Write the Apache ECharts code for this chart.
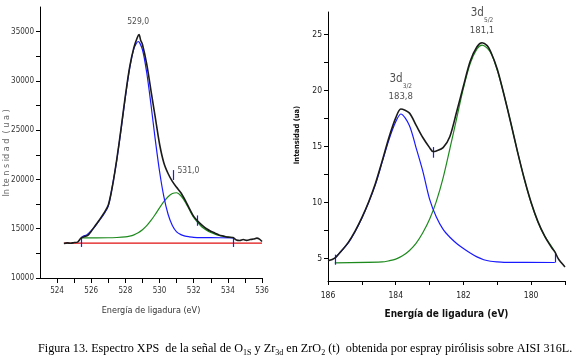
<!DOCTYPE html>
<html>
<head>
<meta charset="utf-8">
<script src="https://cdn.jsdelivr.net/npm/echarts@6/dist/echarts.min.js"></script>
<style>
  html, body { margin: 0; padding: 0; background: #fff; }
  #chart { width: 575px; height: 360px; }
</style>
</head>
<body>
<div id="chart"></div>
<script>
// ---- O 1s spectrum (left) : [energia eV, intensidad]
const o1sExp = [
  [524.4, 13500], [524.6, 13560], [524.8, 13520], [525.0, 13600], [525.2, 13640],
  [525.4, 14050], [525.6, 14200], [525.8, 14330], [526.0, 14750], [526.25, 15350],
  [526.5, 15950], [526.75, 16600], [527.0, 17400], [527.25, 19400], [527.5, 22100],
  [527.75, 25200], [528.0, 28500], [528.25, 31400], [528.5, 33400], [528.7, 34400],
  [528.8, 34700], [528.9, 34100], [529.0, 33700], [529.25, 31700], [529.5, 29000],
  [529.75, 26300], [530.0, 23600], [530.25, 21700], [530.5, 20600], [530.75, 19800],
  [531.0, 19200], [531.25, 18650], [531.5, 17900], [531.75, 17050], [532.0, 16250],
  [532.25, 15750], [532.5, 15350], [532.75, 15000], [533.0, 14750], [533.25, 14550],
  [533.5, 14350], [533.75, 14250], [534.0, 14150], [534.3, 14100], [534.5, 13850],
  [534.7, 13800], [534.9, 13900], [535.1, 13820], [535.3, 13900], [535.5, 13950],
  [535.7, 14050], [535.85, 13950], [536.0, 13700]
];
const o1sPeakA = [
  [525.4, 14080], [525.5, 14220], [525.75, 14400], [526.0, 14800], [526.25, 15300],
  [526.5, 15900], [526.75, 16500], [527.0, 17300], [527.25, 19450], [527.5, 22000],
  [527.75, 25100], [528.0, 28370], [528.25, 31270], [528.5, 33280], [528.75, 34000],
  [529.0, 33160], [529.25, 30830], [529.5, 27580], [529.75, 24040], [530.0, 20830],
  [530.25, 18280], [530.5, 16470], [530.75, 15330], [531.0, 14680], [531.25, 14400],
  [531.5, 14250], [531.75, 14180], [532.0, 14130], [532.5, 14100], [533.0, 14090],
  [534.3, 14080]
];
const o1sPeakB = [
  [525.4, 14080], [527.0, 14085], [527.5, 14110], [528.0, 14170], [528.25, 14250],
  [528.5, 14380], [528.75, 14590], [529.0, 14900], [529.25, 15310], [529.5, 15840],
  [529.75, 16460], [530.0, 17120], [530.25, 17740], [530.5, 18250], [530.75, 18570],
  [531.0, 18650], [531.25, 18350], [531.5, 17730], [531.75, 16920], [532.0, 16150],
  [532.25, 15600], [532.5, 15150], [532.75, 14850], [533.0, 14620], [533.25, 14450],
  [533.5, 14320], [533.75, 14220], [534.0, 14140], [534.3, 14090]
];
const o1sBackground = [[524.4, 13540], [536.0, 13540]];
const o1sMarks = [[525.4, 13150, 14100], [534.3, 13150, 14100], [530.8, 19950, 20950], [532.2, 15300, 16350]];
const o1sLabels = [[528.75, 34700, '529,0'], [530.9, 20900, '531,0']];
const o1sTicksX = [524, 525, 526, 527, 528, 529, 530, 531, 532, 533, 534, 535, 536];
const o1sLabelsX = [524, 526, 528, 530, 532, 534, 536];
const o1sTicksY = [10000, 12500, 15000, 17500, 20000, 22500, 25000, 27500, 30000, 32500, 35000];
const o1sLabelsY = [10000, 15000, 20000, 25000, 30000, 35000];

// ---- Zr 3d spectrum (right)
const zrExp = [
  [186.0, 4.8], [185.8, 5.05], [185.6, 5.7], [185.4, 6.45], [185.2, 7.45], [185.0, 8.65],
  [184.8, 10.05], [184.6, 11.7], [184.4, 13.7], [184.2, 15.8], [184.0, 17.55], [183.85, 18.35],
  [183.6, 18.0], [183.4, 16.9], [183.2, 15.8], [183.0, 14.9], [182.9, 14.55], [182.8, 14.6],
  [182.6, 14.9], [182.4, 15.9], [182.2, 18.1], [182.0, 20.4], [181.8, 22.6], [181.6, 23.9],
  [181.45, 24.25], [181.3, 24.0], [181.2, 23.5], [181.0, 21.9], [180.8, 19.6], [180.6, 17.1],
  [180.4, 14.5], [180.2, 12.1], [180.0, 10.0], [179.8, 8.3], [179.6, 7.0], [179.4, 6.0],
  [179.3, 5.6], [179.2, 5.0], [179.1, 4.6], [179.0, 4.25]
];
const zrPeak32 = [
  [185.8, 5.0], [185.6, 5.7], [185.4, 6.4], [185.2, 7.4], [185.0, 8.6], [184.8, 10.0],
  [184.6, 11.6], [184.4, 13.6], [184.2, 15.6], [184.0, 17.2], [183.85, 17.9], [183.6, 16.9],
  [183.4, 14.9], [183.2, 12.8], [183.0, 10.3], [182.8, 8.7], [182.6, 7.6], [182.4, 6.9],
  [182.2, 6.35], [182.0, 5.9], [181.8, 5.5], [181.6, 5.15], [181.4, 4.9], [181.2, 4.76],
  [181.0, 4.7], [180.8, 4.67], [179.3, 4.65]
];
const zrPeak52 = [
  [185.8, 4.62], [184.4, 4.7], [184.2, 4.8], [184.0, 4.95], [183.8, 5.25], [183.6, 5.7],
  [183.4, 6.35], [183.2, 7.3], [183.0, 8.5], [182.8, 10.1], [182.6, 12.2], [182.4, 14.8],
  [182.2, 17.5], [182.0, 20.2], [181.8, 22.4], [181.6, 23.7], [181.45, 24.05], [181.2, 23.4],
  [181.0, 21.8], [180.8, 19.6], [180.6, 17.1], [180.4, 14.5], [180.2, 12.06], [180.0, 9.96],
  [179.8, 8.27], [179.6, 7.0], [179.4, 6.1], [179.3, 5.6]
];
const zrMarks = [[185.8, 4.45, 5.35], [179.3, 4.65, 5.45], [182.9, 14.0, 14.95]];
const zrLabels = [[183.85, 18.35, '3/2', '183,8'], [181.45, 24.25, '5/2', '181,1']];
const zrTicksX = [186, 185, 184, 183, 182, 181, 180, 179];
const zrLabelsX = [186, 184, 182, 180];
const zrTicksY = [5, 7.5, 10, 12.5, 15, 17.5, 20, 22.5, 25];
const zrLabelsY = [5, 10, 15, 20, 25];

const narrow = "'Liberation Sans Narrow', 'DejaVu Sans Condensed', 'Arial Narrow', sans-serif";

function markLines(list) {
    return list.map(m => [{ coord: [m[0], m[1]] }, { coord: [m[0], m[2]] }]);
}

function curve(data, xi, color, width, z) {
    return {
        type: 'line', xAxisIndex: xi, yAxisIndex: xi, data: data,
        smooth: 0.3, showSymbol: false, symbol: 'none', z: z,
        lineStyle: { color: color, width: width }
    };
}

const chart = echarts.init(document.getElementById('chart'));

chart.setOption({
    animation: false,
    backgroundColor: '#fff',
    grid: [
        { left: 40, top: 7, width: 222, height: 271, containLabel: false, outerBoundsMode: 'none' },
        { left: 328, top: 12, width: 237, height: 269, containLabel: false, outerBoundsMode: 'none' }
    ],
    xAxis: [
        {
            type: 'value', gridIndex: 0, min: 523, max: 536,
            axisLine: { lineStyle: { color: '#000', width: 1 } },
            axisTick: { customValues: o1sTicksX, length: 5, lineStyle: { color: '#000' } },
            axisLabel: { customValues: o1sLabelsX, formatter: v => String(v), fontFamily: narrow, fontSize: 8, color: '#333', margin: 9 },
            splitLine: { show: false },
            name: 'Energía de ligadura (eV)', nameLocation: 'middle', nameGap: 28,
            nameTextStyle: { fontFamily: narrow, fontSize: 9, color: '#333' }
        },
        {
            type: 'value', gridIndex: 1, min: 179, max: 186, inverse: true,
            axisLine: { lineStyle: { color: '#000', width: 1 } },
            axisTick: { customValues: zrTicksX, length: 4, lineStyle: { color: '#000' } },
            axisLabel: { customValues: zrLabelsX, formatter: v => String(v), fontFamily: narrow, fontSize: 8.5, color: '#222', margin: 10 },
            splitLine: { show: false },
            name: 'Energía de ligadura (eV)', nameLocation: 'middle', nameGap: 28,
            nameTextStyle: { fontFamily: narrow, fontSize: 10, fontWeight: 'bold', color: '#111' }
        }
    ],
    yAxis: [
        {
            type: 'value', gridIndex: 0, min: 10000, max: 37500,
            axisLine: { show: true, lineStyle: { color: '#000', width: 1 } },
            axisTick: { show: true, customValues: o1sTicksY, length: 4, lineStyle: { color: '#000' } },
            axisLabel: { customValues: o1sLabelsY, formatter: v => String(v), fontFamily: narrow, fontSize: 8, color: '#333', margin: 6 },
            splitLine: { show: false },
            name: 'In te n s id a d  ( u a )', nameLocation: 'middle', nameGap: 29, nameMoveOverlap: false,
            nameTextStyle: { fontFamily: narrow, fontSize: 9, color: '#666', padding: [0, 21, 0, 0] }
        },
        {
            type: 'value', gridIndex: 1, min: 3, max: 27,
            axisLine: { show: true, lineStyle: { color: '#000', width: 1 } },
            axisTick: { show: true, customValues: zrTicksY, length: 4, lineStyle: { color: '#000' } },
            axisLabel: { customValues: zrLabelsY, formatter: v => String(v), fontFamily: narrow, fontSize: 8.5, color: '#222', margin: 6 },
            splitLine: { show: false },
            name: 'Intensidad (ua)', nameLocation: 'middle', nameGap: 27,
            nameTextStyle: { fontFamily: narrow, fontSize: 7.5, fontWeight: 'bold', color: '#111', padding: [0, 0, 0, 23] }
        }
    ],
    series: [
        // O 1s
        Object.assign(curve(o1sBackground, 0, '#e01010', 1.2, 2), {
            smooth: false,
            markLine: {
                silent: true, symbol: ['none', 'none'], label: { show: false },
                lineStyle: { color: '#1a1aff', width: 1.2, type: 'solid' },
                data: markLines(o1sMarks)
            }
        }),
        curve(o1sPeakB, 0, '#1e8a1e', 1.2, 3),
        curve(o1sPeakA, 0, '#1a1aff', 1.2, 4),
        curve(o1sExp, 0, '#1b1b1b', 1.6, 5),
        {
            type: 'scatter', xAxisIndex: 0, yAxisIndex: 0, symbolSize: 1, z: 6,
            itemStyle: { color: 'rgba(0,0,0,0)' },
            data: o1sLabels.map(l => ({
                value: [l[0], l[1]],
                label: {
                    show: true, formatter: l[2], position: l[0] > 530 ? 'right' : 'top',
                    distance: l[0] > 530 ? 2 : 8,
                    fontFamily: narrow, fontSize: 8.5, color: '#222'
                }
            }))
        },
        // Zr 3d
        Object.assign(curve(zrPeak52, 1, '#1e8a1e', 1.2, 3), {
            markLine: {
                silent: true, symbol: ['none', 'none'], label: { show: false },
                lineStyle: { color: '#1a1aff', width: 1.2, type: 'solid' },
                data: markLines(zrMarks)
            }
        }),
        curve(zrPeak32, 1, '#1a1aff', 1.2, 4),
        curve(zrExp, 1, '#1b1b1b', 1.6, 5),
        {
            type: 'scatter', xAxisIndex: 1, yAxisIndex: 1, symbolSize: 1, z: 6, clip: false,
            itemStyle: { color: 'rgba(0,0,0,0)' },
            data: zrLabels.map(l => ({
                value: [l[0], l[1]],
                label: {
                    show: true, position: 'top', distance: 5, align: 'center',
                    formatter: '{d|3d}{s|' + l[2] + '}\n{v|' + l[3] + '}',
                    rich: {
                        d: { fontFamily: narrow, fontSize: 11.5, color: '#222', lineHeight: 20 },
                        s: { fontFamily: narrow, fontSize: 6.5, color: '#222', lineHeight: 20, verticalAlign: 'bottom', padding: [6, 0, 0, 0] },
                        v: { fontFamily: narrow, fontSize: 9.5, color: '#222', lineHeight: 14 }
                    }
                }
            }))
        }
    ],
    graphic: [
        {
            type: 'text', left: 38, top: 343,
            style: {
                text: '{r|Figura 13}{n|. Espectro XPS  de la señal de O}{s|1S}{n| y Zr}{s|3d}{n| en ZrO}{s|2}{n| (t)  obtenida por espray pirólisis sobre AISI 316L.}',
                rich: {
                    r: { fontFamily: "'Liberation Serif', serif", fontSize: 12.2, color: '#b3123c', lineHeight: 15 },
                    n: { fontFamily: "'Liberation Serif', serif", fontSize: 12.2, color: '#111', lineHeight: 15 },
                    s: { fontFamily: "'Liberation Serif', serif", fontSize: 8, color: '#111', lineHeight: 15, verticalAlign: 'bottom', padding: [4, 0, 0, 0] }
                }
            }
        }
    ]
});
</script>
</body>
</html>
